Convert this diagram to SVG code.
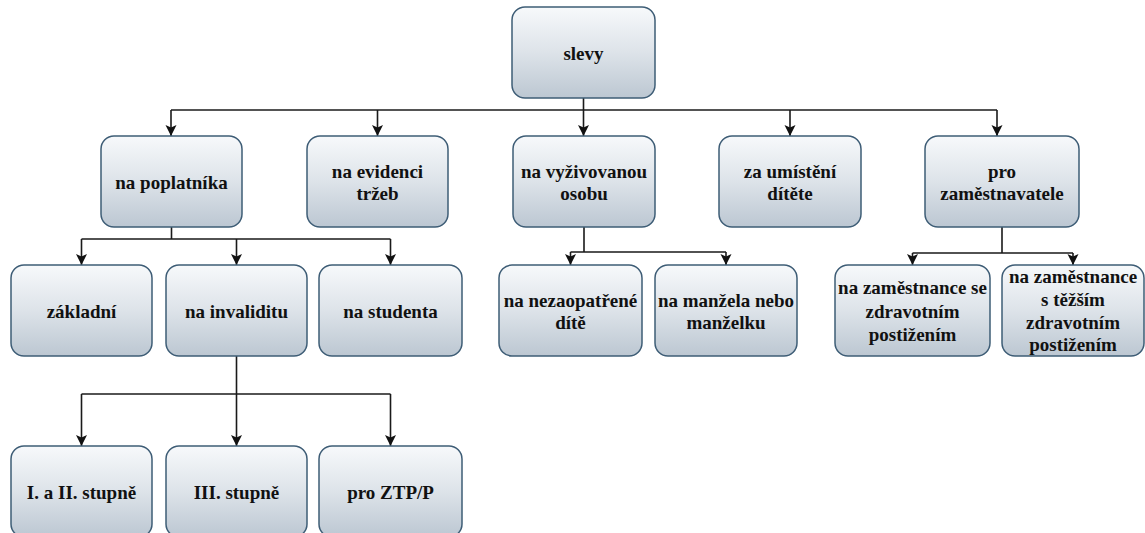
<svg xmlns="http://www.w3.org/2000/svg" width="1145" height="533" viewBox="0 0 1145 533">
<defs>
<linearGradient id="g" x1="0" y1="0" x2="0" y2="1">
<stop offset="0" stop-color="#f7f9fb"/>
<stop offset="0.5" stop-color="#dde3e9"/>
<stop offset="1" stop-color="#bcc7d2"/>
</linearGradient>
<marker id="arr" markerUnits="userSpaceOnUse" markerWidth="12" markerHeight="12" viewBox="0 0 12 12" refX="11" refY="6" orient="auto">
<path d="M0,0.5 L11,6 L0,11.5 L2.5,6 Z" fill="#111"/>
</marker>
<style>
.box{fill:url(#g);stroke:#3e5d76;stroke-width:1.5}
.t{font-family:'Liberation Serif','Times New Roman',serif;font-weight:bold;font-size:19px;fill:#111;text-anchor:middle}
.c{fill:none;stroke:#1a1a1a;stroke-width:1.6}
.a{fill:none;stroke:#1a1a1a;stroke-width:1.6;marker-end:url(#arr)}
</style>
</defs>
<rect width="1145" height="533" fill="#ffffff"/>
<g id="connectors">
<path class="c" d="M171,110 H997"/>
<path class="a" d="M583.5,98 V136"/>
<path class="a" d="M171,110 V136"/>
<path class="a" d="M377.5,110 V136"/>
<path class="a" d="M790,110 V136"/>
<path class="a" d="M997,110 V136"/>
<path class="c" d="M171.5,227 V239 M81.5,239 H390.5"/>
<path class="a" d="M81.5,239 V265"/>
<path class="a" d="M236.5,239 V265"/>
<path class="a" d="M390.5,239 V265"/>
<path class="a" d="M236.5,356 V446"/>
<path class="c" d="M81.5,394 H390.5"/>
<path class="a" d="M81.5,394 V446"/>
<path class="a" d="M390.5,394 V446"/>
<path class="c" d="M584,227 V252 M570.5,252 H726"/>
<path class="a" d="M570.5,252 V265"/>
<path class="a" d="M726,252 V265"/>
<path class="c" d="M1002,227 V253 M912.5,253 H1073"/>
<path class="a" d="M912.5,253 V265"/>
<path class="a" d="M1073,253 V265"/>
</g>
<g id="n-slevy"><rect class="box" x="512" y="7" width="143" height="91" rx="13"/><text class="t" x="583.5" y="59.5">slevy</text></g>
<g id="n-poplatnika"><rect class="box" x="101" y="136" width="141" height="91" rx="13"/><text class="t" x="171.5" y="189">na poplatníka</text></g>
<g id="n-evidence"><rect class="box" x="307" y="136" width="141" height="91" rx="13"/><text class="t" x="377.5" y="178">na evidenci</text><text class="t" x="377.5" y="200">tržeb</text></g>
<g id="n-vyzivovanou"><rect class="box" x="513" y="136" width="142" height="91" rx="13"/><text class="t" x="584" y="178">na vyživovanou</text><text class="t" x="584" y="200">osobu</text></g>
<g id="n-umisteni"><rect class="box" x="719" y="136" width="142" height="91" rx="13"/><text class="t" x="790" y="178">za umístění</text><text class="t" x="790" y="200">dítěte</text></g>
<g id="n-zamestnavatele"><rect class="box" x="925" y="136" width="154" height="91" rx="13"/><text class="t" x="1002" y="178">pro</text><text class="t" x="1002" y="200">zaměstnavatele</text></g>
<g id="n-zakladni"><rect class="box" x="11" y="265" width="141" height="91" rx="13"/><text class="t" x="81.5" y="318">základní</text></g>
<g id="n-invaliditu"><rect class="box" x="166" y="265" width="141" height="91" rx="13"/><text class="t" x="236.5" y="318">na invaliditu</text></g>
<g id="n-studenta"><rect class="box" x="319" y="265" width="143" height="91" rx="13"/><text class="t" x="390.5" y="318">na studenta</text></g>
<g id="n-dite"><rect class="box" x="499" y="265" width="143" height="91" rx="13"/><text class="t" x="570.5" y="307">na nezaopatřené</text><text class="t" x="570.5" y="329">dítě</text></g>
<g id="n-manzel"><rect class="box" x="655" y="265" width="142" height="91" rx="13"/><text class="t" x="726" y="307">na manžela nebo</text><text class="t" x="726" y="329">manželku</text></g>
<g id="n-zam-zp"><rect class="box" x="835" y="265" width="155" height="91" rx="13"/><text class="t" x="912.5" y="294">na zaměstnance se</text><text class="t" x="912.5" y="317.5">zdravotním</text><text class="t" x="912.5" y="341">postižením</text></g>
<g id="n-zam-tzp"><rect class="box" x="1002" y="265" width="142" height="91" rx="13"/><text class="t" x="1073" y="283">na zaměstnance</text><text class="t" x="1073" y="306">s těžším</text><text class="t" x="1073" y="328.5">zdravotním</text><text class="t" x="1073" y="351">postižením</text></g>
<g id="n-stupne12"><rect class="box" x="11" y="446" width="141" height="91" rx="13"/><text class="t" x="81.5" y="499">I. a II. stupně</text></g>
<g id="n-stupne3"><rect class="box" x="166" y="446" width="141" height="91" rx="13"/><text class="t" x="236.5" y="499">III. stupně</text></g>
<g id="n-ztpp"><rect class="box" x="319" y="446" width="143" height="91" rx="13"/><text class="t" x="390.5" y="499">pro ZTP/P</text></g>
</svg>
